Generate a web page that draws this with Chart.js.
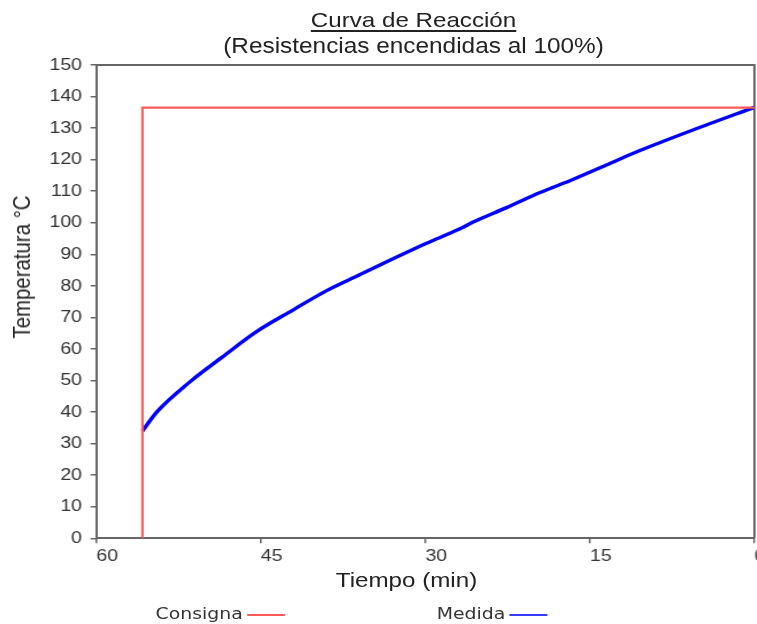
<!DOCTYPE html>
<html>
<head>
<meta charset="utf-8">
<script src="https://cdn.jsdelivr.net/npm/chart.js@4.4.1/dist/chart.umd.min.js"></script>
<style>
  html, body { margin:0; padding:0; background:#ffffff; overflow:hidden; }
  #wrap { position:absolute; left:0; top:0; width:659px; height:624px; transform:scaleX(1.15); transform-origin:0 0; }
  #c { position:absolute; left:0; top:0; }
  .txt { position:absolute; font-family:"Liberation Sans", Arial, sans-serif; color:#222; line-height:1; white-space:nowrap; }
  #title { left:0; width:719.2px; text-align:center; top:9px; font-size:21px; text-decoration:underline; text-underline-offset:3px; text-decoration-thickness:1.5px; }
  #subtitle { left:0; width:719.2px; text-align:center; top:35px; font-size:21.2px; }
  #xtitle { left:0; width:707px; text-align:center; top:569px; font-size:21px; }
  #ytitle { left:18.8px; top:267px; font-size:20.4px; transform:translate(-50%,-50%) rotate(-90deg); }
  .leg { position:absolute; font-family:"DejaVu Sans", Verdana, sans-serif; font-size:16.4px; color:#333; line-height:1; top:606px; white-space:nowrap; }
  .legline { position:absolute; height:2px; top:614px; }
</style>
</head>
<body>
<div id="wrap">
  <canvas id="c" width="659" height="624"></canvas>
  <div class="txt" id="title">Curva de Reacción</div>
  <div class="txt" id="subtitle">(Resistencias encendidas al 100%)</div>
  <div class="txt" id="xtitle">Tiempo (min)</div>
  <div class="txt" id="ytitle">Temperatura °C</div>
  <div class="leg" style="left:135.3px">Consigna</div>
  <div class="legline" style="left:215.2px;width:32.6px;background:#ff5a5a"></div>
  <div class="leg" style="left:379.7px">Medida</div>
  <div class="legline" style="left:443.1px;width:33px;background:#3a3aff"></div>
</div>
<script>
// ---- data ----
const seriesNames = ["Consigna", "Medida"];
const consignaTime = [55.8, 55.8, 0];
const consignaTemp = [0, 136.5, 136.5];
const medidaTime = [55.8, 54.5, 51.5, 48.5, 45.4, 42.0, 39.0, 36.0, 33.0, 29.9, 26.9, 25.6, 22.6, 19.6, 16.5, 13.5, 10.5, 5.0, 0];
const medidaTemp = [34, 40, 49.5, 57.5, 65.5, 72.5, 78.5, 83.5, 88.5, 93.5, 98, 100.3, 104.8, 109.5, 113.8, 118.3, 122.8, 130.2, 136.6];
const xMin = 0, xMax = 60, xStep = 15;
const yMin = 0, yMax = 150, yStep = 10;

const toPoints = (xs, ys) => xs.map((x, i) => ({ x: x, y: ys[i] }));

const framePlugin = {
  id: 'frame',
  beforeDatasetsDraw(chart) {
    const { ctx, chartArea: a } = chart;
    ctx.save();
    ctx.strokeStyle = '#666666';
    ctx.lineWidth = 2;
    ctx.beginPath();
    ctx.moveTo(a.left, a.top);
    ctx.lineTo(a.right, a.top);
    ctx.lineTo(a.right, a.bottom);
    ctx.stroke();
    ctx.restore();
  }
};

Chart.defaults.font.family = '"Liberation Sans", Arial, sans-serif';
Chart.defaults.color = '#333333';

new Chart(document.getElementById('c'), {
  type: 'line',
  data: {
    datasets: [
      {
        label: seriesNames[0],
        data: toPoints(consignaTime, consignaTemp),
        borderColor: '#ff5a5a',
        borderWidth: 2.2,
        pointRadius: 0,
        tension: 0,
        fill: false
      },
      {
        label: seriesNames[1],
        data: toPoints(medidaTime, medidaTemp),
        borderColor: '#0000ff',
        borderWidth: 3.4,
        pointRadius: 0,
        cubicInterpolationMode: 'monotone',
        fill: false
      }
    ]
  },
  options: {
    responsive: false,
    animation: false,
    layout: { autoPadding: false, padding: { top: 65, right: 3, bottom: 0, left: 0 } },
    plugins: { legend: { display: false }, title: { display: false }, tooltip: { enabled: false } },
    scales: {
      x: {
        type: 'linear',
        reverse: true,
        min: xMin, max: xMax,
        ticks: { stepSize: xStep, align: 'start', maxRotation: 0, padding: 3, font: { size: 17 }, color: '#333' },
        grid: { drawOnChartArea: false, drawTicks: true, tickLength: 5, color: '#666', lineWidth: 1.5 },
        border: { display: true, color: '#666', width: 2 },
        afterFit(scale) { scale.height = 85.7; scale.paddingLeft = 0; scale.paddingRight = 0; }
      },
      y: {
        min: yMin, max: yMax,
        ticks: { stepSize: yStep, padding: 7.5, font: { size: 17 }, color: '#333' },
        grid: { drawOnChartArea: false, drawTicks: true, tickLength: 5, color: '#666', lineWidth: 1.5 },
        border: { display: true, color: '#666', width: 2 },
        afterFit(scale) { scale.width = 83.8; scale.paddingTop = 0; scale.paddingBottom = 0; }
      }
    }
  },
  plugins: [framePlugin]
});
</script>
</body>
</html>
